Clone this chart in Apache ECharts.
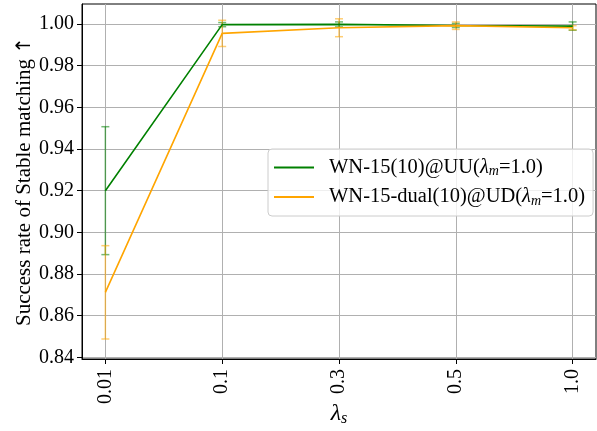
<!DOCTYPE html>
<html><head><meta charset="utf-8">
<script src="https://cdn.jsdelivr.net/npm/echarts@6/dist/echarts.min.js"></script>
<style>html,body{margin:0;padding:0;background:#fff}#c{width:597px;height:431px}</style>
</head><body><div id="c"></div>
<script>
const categories = ['0.01', '0.1', '0.3', '0.5', '1.0'];
const yTicks = [0.84, 0.86, 0.88, 0.90, 0.92, 0.94, 0.96, 0.98, 1.00];
const uuMean = [0.9200, 0.9997, 0.9998, 0.9993, 0.9990];
const uuErr  = [0.0307, 0.0010, 0.0012, 0.0010, 0.0020];
const udMean = [0.8712, 0.9955, 0.9982, 0.9992, 0.9982];
const udErr  = [0.0224, 0.0063, 0.0043, 0.0018, 0.0010];

const FONT = 'Liberation Serif';
const xs = categories.map((c, i) => i);
function lineData(m) { return m.map((v, i) => [i, v]); }
function errData(m, e) { return m.map((v, i) => [i, v - e[i], v + e[i]]); }
function errSeries(name, m, e, color) {
  return {
    type: 'custom', name: name + '_err', silent: true, z: 3,
    data: errData(m, e),
    encode: { x: 0, y: [1, 2] },
    renderItem: function (params, api) {
      const x = api.value(0);
      const lo = api.coord([x, api.value(1)]);
      const hi = api.coord([x, api.value(2)]);
      const w = 4;
      const st = { stroke: color, lineWidth: 1.5 };
      return { type: 'group', children: [
        { type: 'line', shape: { x1: lo[0], y1: lo[1], x2: hi[0], y2: hi[1] }, style: st },
        { type: 'line', shape: { x1: lo[0] - w, y1: lo[1], x2: lo[0] + w, y2: lo[1] }, style: st },
        { type: 'line', shape: { x1: hi[0] - w, y1: hi[1], x2: hi[0] + w, y2: hi[1] }, style: st }
      ]};
    }
  };
}
const chart = echarts.init(document.getElementById('c'), null, { renderer: 'canvas' });
chart.setOption({
  animation: false,
  textStyle: { fontFamily: FONT },
  grid: { left: 82, right: 1, top: 4, bottom: 72, outerBoundsMode: 'none', containLabel: false,
    show: true, borderColor: '#000', borderWidth: 1, backgroundColor: 'transparent' },
  xAxis: {
    type: 'value', min: -0.2, max: 4.2,
    axisLine: { show: true, onZero: false, lineStyle: { color: '#000', width: 1 } },
    axisTick: { show: true, customValues: xs, length: 5, lineStyle: { color: '#000' } },
    axisLabel: { customValues: xs, rotate: 90, color: '#000', fontFamily: FONT, fontSize: 20, margin: 10,
      formatter: v => categories[Math.round(v)] },
    splitLine: { show: true, lineStyle: { color: '#b0b0b0', width: 1 } },
    name: '{a|λ}{b|s}', nameLocation: 'middle', nameGap: 42, nameMoveOverlap: false,
    nameTextStyle: { rich: {
      a: { fontFamily: FONT, fontStyle: 'italic', fontSize: 24, color: '#000' },
      b: { fontFamily: FONT, fontStyle: 'italic', fontSize: 16, color: '#000', verticalAlign: 'bottom', padding: [10, 0, 0, 0] } } }
  },
  yAxis: {
    type: 'value', min: 0.8392, max: 1.0096,
    axisLine: { show: true, onZero: false, lineStyle: { color: '#000', width: 1 } },
    axisTick: { show: true, customValues: yTicks, length: 5, lineStyle: { color: '#000' } },
    axisLabel: { customValues: yTicks, color: '#000', fontFamily: FONT, fontSize: 20, margin: 8,
      formatter: v => v.toFixed(2) },
    splitLine: { show: true, lineStyle: { color: '#b0b0b0', width: 1 } },
    name: '{t|Success rate of Stable matching }{a|↑}', nameLocation: 'middle', nameGap: 47, nameRotate: 90,
    nameMoveOverlap: false,
    nameTextStyle: { rich: {
      t: { fontFamily: FONT, fontSize: 21, color: '#000' },
      a: { fontFamily: 'DejaVu Sans', fontSize: 20, color: '#000' } } }
  },
  legend: {
    left: 268, top: 149, orient: 'vertical', itemGap: 8,
    backgroundColor: 'rgba(255,255,255,0.8)', borderColor: '#cccccc', borderWidth: 1, borderRadius: 4,
    padding: [8, 8, 8, 6],
    icon: 'rect', itemWidth: 40, itemHeight: 2,
    data: ['uu', 'ud'],
    formatter: function (n) {
      return n === 'uu' ? '{t|WN-15(10)@UU(}{i|λ}{s|m}{t|=1.0)}' : '{t|WN-15-dual(10)@UD(}{i|λ}{s|m}{t|=1.0)}';
    },
    textStyle: { padding: [0, 0, 0, 10], rich: {
      t: { fontFamily: FONT, fontSize: 20.5, color: '#000' },
      i: { fontFamily: FONT, fontStyle: 'italic', fontSize: 20.5, color: '#000' },
      s: { fontFamily: FONT, fontStyle: 'italic', fontSize: 14, color: '#000', verticalAlign: 'bottom', padding: [8, 0, 0, 0] } } }
  },
  series: [
    { type: 'line', name: 'uu', data: lineData(uuMean), showSymbol: false, z: 4,
      lineStyle: { color: '#008000', width: 1.6 }, itemStyle: { color: '#008000' } },
    errSeries('uu', uuMean, uuErr, 'rgba(0,128,0,0.55)'),
    { type: 'line', name: 'ud', data: lineData(udMean), showSymbol: false, z: 4,
      lineStyle: { color: '#FFA500', width: 1.6 }, itemStyle: { color: '#FFA500' } },
    errSeries('ud', udMean, udErr, 'rgba(255,165,0,0.55)')
  ]
});
</script></body></html>
